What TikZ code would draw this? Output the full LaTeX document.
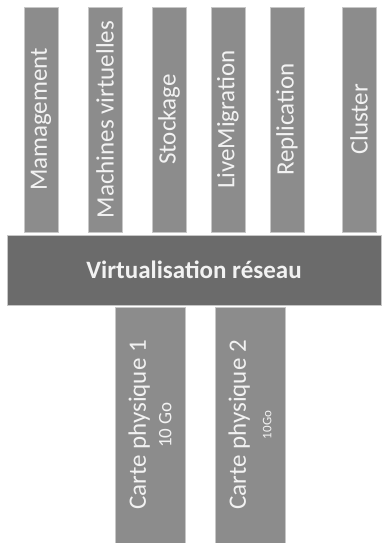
\documentclass[tikz,border=0pt]{standalone}
\usepackage{fontspec}
\setmainfont{Carlito}
\usepackage{tikz}

\definecolor{barfill}{HTML}{8C8C8C}
\definecolor{basefill}{HTML}{6B6B6B}
\definecolor{bartext}{HTML}{F2F2F2}

\tikzset{
    service/.style={rotate=90, fill=barfill, draw=black!22, line width=0.6pt,
        inner sep=0pt, minimum width=225pt, minimum height=34pt,
        text=bartext, font=\fontsize{25}{28}\selectfont},
    carte/.style={rotate=90, fill=barfill, draw=black!22, line width=0.6pt,
        inner sep=0pt, minimum width=236pt, minimum height=70pt,
        text=bartext, align=center},
    reseau/.style={fill=basefill, draw=black!22, line width=0.6pt,
        inner sep=0pt, minimum width=374pt, minimum height=70pt,
        text=bartext, font=\bfseries\fontsize{25}{28}\selectfont}
}

\begin{document}
\begin{tikzpicture}[x=1pt, y=-1pt]
    \useasboundingbox (0,0) rectangle (381,543);

    \node[service] (mgmt) at (41, 119.5) {Mamagement};
    \node[service] (vm) at (105, 119.5) {Machines virtuelles};
    \node[service] (stock) at (169, 119.5) {Stockage};
    \node[service] (live) at (228, 119.5) {LiveMigration};
    \node[service] (repl) at (287, 119.5) {Replication};
    \node[service] (clus) at (359, 119.5) {Cluster};

    \node[reseau] (virt) at (194, 270) {Virtualisation réseau};

    \node[carte] (carte1) at (150, 425) {{\fontsize{25}{29}\selectfont Carte physique 1}\\[8pt]{\fontsize{19}{22}\selectfont 10 Go}};
    \node[carte] (carte2) at (250, 425) {{\fontsize{25}{29}\selectfont Carte physique 2}\\[12pt]{\fontsize{13}{16}\selectfont 10Go}};

\end{tikzpicture}
\end{document}
